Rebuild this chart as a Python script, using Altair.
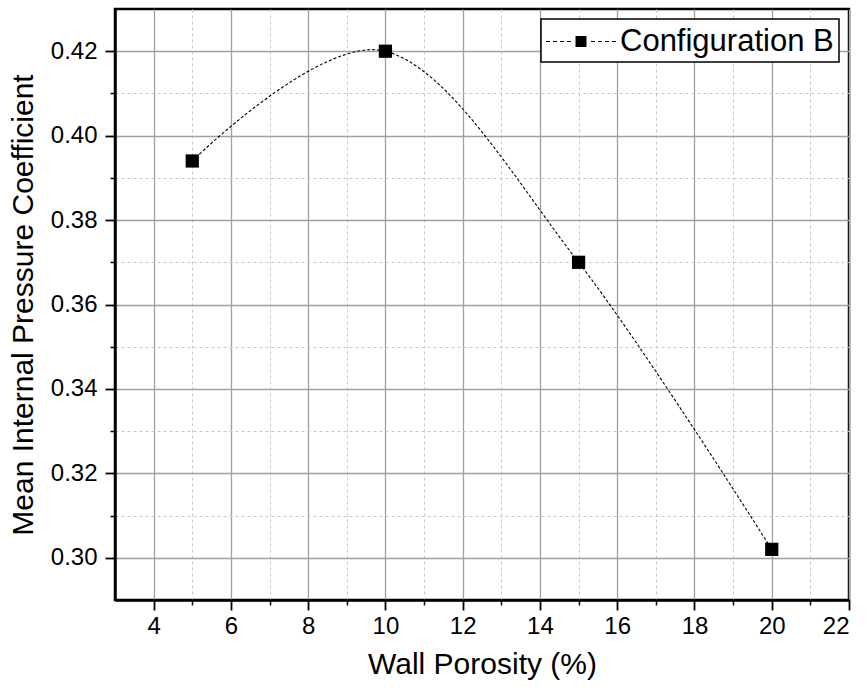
import altair as alt
import pandas as pd

porosity = [5, 10, 15, 20]
cp_mean = [0.394, 0.420, 0.370, 0.302]
series = ["Configuration B"] * 4

x_major = [4, 6, 8, 10, 12, 14, 16, 18, 20, 22]
x_minor = [5, 7, 9, 11, 13, 15, 17, 19, 21]
y_major = [0.30, 0.32, 0.34, 0.36, 0.38, 0.40, 0.42]
y_minor = [0.31, 0.33, 0.35, 0.37, 0.39, 0.41]

df = pd.DataFrame({"x": porosity, "y": cp_mean, "s": series})

FONT = "Liberation Sans"
xs = alt.Scale(domain=[3, 22], nice=False, zero=False)
ys = alt.Scale(domain=[0.29, 0.43], nice=False, zero=False)

# legend symbol: dashed line with a square in the middle (unit = 17.5 px)
dash_parts = []
for a, b in [(-1, -0.771), (-0.6, -0.371), (-0.2, 0.029), (0.2, 0.429),
             (1.571, 1.8), (1.971, 2.2), (2.371, 2.6), (2.771, 3)]:
    dash_parts.append(f"M{a},-0.034H{b}V0.034H{a}Z")
dash_parts.append("M0.686,-0.314H1.314V0.314H0.686Z")
legend_path = " ".join(dash_parts)

minor = alt.Chart(df).mark_point(opacity=0).encode(
    x=alt.X("x:Q", scale=xs, axis=alt.Axis(values=x_minor, orient="bottom", grid=True,
            gridDash=[3, 3], gridColor="#c8c8c8", gridWidth=1, labels=False, domain=False,
            tickSize=5, tickWidth=1.5, tickColor="black", title=None)),
    y=alt.Y("y:Q", scale=ys, axis=alt.Axis(values=y_minor, orient="left", grid=True,
            gridDash=[3, 3], gridColor="#c8c8c8", gridWidth=1, labels=False, domain=False,
            tickSize=5, tickWidth=1.5, tickColor="black", title=None)),
)

line = alt.Chart(df).mark_line(interpolate="cardinal", color="black", strokeWidth=1.1,
                               strokeDash=[3, 2]).encode(
    x=alt.X("x:Q", scale=xs, axis=alt.Axis(values=x_major, orient="bottom", grid=True,
            gridColor="#a0a0a0", gridWidth=1.3, domain=True, domainColor="black",
            domainWidth=2.5, tickSize=10, tickWidth=1.8, tickColor="black",
            labelFontSize=24, labelFont=FONT, labelColor="black", labelPadding=4,
            title="Wall Porosity (%)", titleFont=FONT, titleFontSize=30,
            titleFontWeight="normal", titleColor="black", titlePadding=11)),
    y=alt.Y("y:Q", scale=ys, axis=alt.Axis(values=y_major, orient="left", grid=True,
            format=".2f", gridColor="#a0a0a0", gridWidth=1.3, domain=True,
            domainColor="black", domainWidth=2.5, tickSize=10, tickWidth=1.8,
            tickColor="black", labelFontSize=24, labelFont=FONT, labelColor="black",
            labelPadding=8, title="Mean Internal Pressure Coefficient", titleFont=FONT,
            titleFontSize=30, titleFontWeight="normal", titleColor="black",
            titlePadding=12)),
)

points = alt.Chart(df).mark_point(shape="square", filled=True, size=175, opacity=1).encode(
    x=alt.X("x:Q", scale=xs, axis=None),
    y=alt.Y("y:Q", scale=ys, axis=None),
    color=alt.Color("s:N", scale=alt.Scale(domain=["Configuration B"], range=["black"]),
                    legend=alt.Legend(title=None, orient="top-right", offset=10,
                                      symbolType=legend_path, symbolSize=1225,
                                      symbolFillColor="black", symbolStrokeWidth=0,
                                      symbolOffset=0, labelFont=FONT, labelFontSize=31,
                                      labelColor="black", labelOffset=39, labelLimit=0,
                                      strokeColor="black", fillColor="white",
                                      padding=5, cornerRadius=0)),
)

chart = alt.layer(minor, line, points).resolve_axis(x="independent", y="independent").properties(
    width=734, height=591,
    autosize=alt.AutoSizeParams(type="none"),
    padding={"left": 115, "top": 9, "right": 18, "bottom": 92},
    background="white",
).configure_view(stroke="black", strokeWidth=2.5).configure_legend(strokeWidth=1.5)

chart.save("out.html", embed_options={"renderer": "svg", "actions": False})
